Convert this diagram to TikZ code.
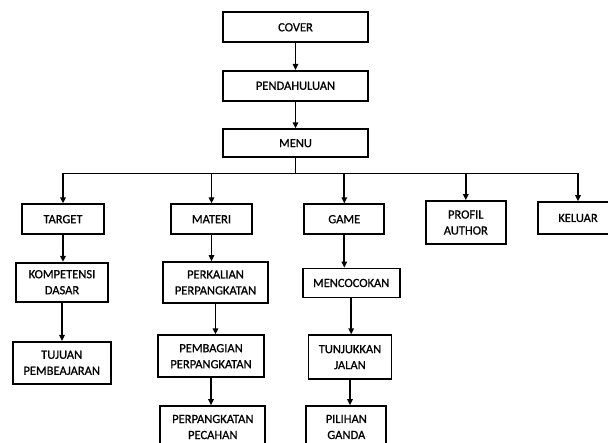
\documentclass[tikz,border=0pt]{standalone}
\usepackage{fontspec}
\setmainfont{Carlito}
\newfontfamily\boxfont{Carlito}[FakeBold=0.8]
\usetikzlibrary{arrows.meta, positioning}

\tikzset{
    box/.style={draw, line width=1.7pt, align=center, inner sep=0pt, font=\boxfont\fontsize{12.5}{16}\selectfont},
    arr/.style={-{Triangle[length=6pt, width=5.5pt]}, line width=1.7pt}
}

\begin{document}
\begin{tikzpicture}[x=1pt, y=-1pt]
    \useasboundingbox (0, 0) rectangle (608, 443);

    \node[box, minimum width=145pt, minimum height=30pt] (cover) at (295.5, 27.3) {COVER};
    \node[box, minimum width=145pt, minimum height=30pt] (pend) at (295.5, 85.8) {PENDAHULUAN};
    \node[box, minimum width=145pt, minimum height=28pt] (menu) at (295.5, 143.2) {MENU};

    \node[box, minimum width=82pt, minimum height=30pt] (target) at (63, 219.2) {TARGET};
    \node[box, minimum width=81pt, minimum height=30pt] (materi) at (211.5, 219.2) {MATERI};
    \node[box, minimum width=80pt, minimum height=30pt] (game) at (344.3, 219.2) {GAME};
    \node[box, minimum width=80pt, minimum height=43pt] (profil) at (465.8, 222.5) {PROFIL \\ AUTHOR};
    \node[box, minimum width=80pt, minimum height=32pt] (keluar) at (578, 218) {KELUAR};

    \node[box, minimum width=92pt, minimum height=39pt] (komp) at (62, 282.2) {KOMPETENSI \\ DASAR};
    \node[box, minimum width=98pt, minimum height=42pt] (tujuan) at (61.7, 362.8) {TUJUAN \\ PEMBEAJARAN};

    \node[box, minimum width=105pt, minimum height=41pt] (kali) at (215.5, 282.5) {PERKALIAN \\ PERPANGKATAN};
    \node[box, minimum width=106pt, minimum height=42pt] (bagi) at (211, 356.2) {PEMBAGIAN \\ PERPANGKATAN};
    \node[box, minimum width=105pt, minimum height=42pt] (pecahan) at (212.8, 427) {PERPANGKATAN \\ PECAHAN};

    \node[box, minimum width=97pt, minimum height=29pt] (cocok) at (351.2, 283) {MENCOCOKAN};
    \node[box, minimum width=83pt, minimum height=44pt] (jalan) at (350, 357.2) {TUNJUKKAN \\ JALAN};
    \node[box, minimum width=80pt, minimum height=42pt] (ganda) at (346.3, 427) {PILIHAN \\ GANDA};

    \coordinate (bus) at (295.5, 173.5);

    \draw[arr] (cover) -- (pend);
    \draw[arr] (pend) -- (menu);
    \draw[line width=1.7pt] (menu) -- (bus);
    \draw[line width=1.7pt] (target.north |- bus) -- (keluar.north |- bus);
    \foreach \n in {target, materi, game, profil, keluar}
        \draw[arr] (\n.north |- bus) -- (\n.north);

    \draw[arr] (target.south) -- (target.south |- komp.north);
    \draw[arr] (komp.south) -- (komp.south |- tujuan.north);
    \draw[arr] (materi.south) -- (materi.south |- kali.north);
    \draw[arr] (kali.south) -- (kali.south |- bagi.north);
    \draw[arr] (bagi.south) -- (bagi.south |- pecahan.north);
    \draw[arr] (game.south) -- (game.south |- cocok.north);
    \draw[arr] (cocok.south) -- (cocok.south |- jalan.north);
    \draw[arr] (jalan.south) -- (jalan.south |- ganda.north);
\end{tikzpicture}
\end{document}
